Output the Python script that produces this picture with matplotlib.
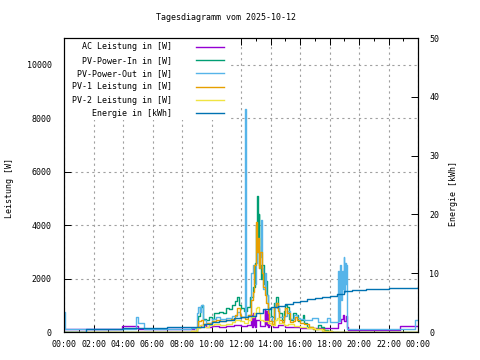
import matplotlib
matplotlib.use("Agg")
import matplotlib.pyplot as plt
from matplotlib.patches import Rectangle

plt.rcParams['font.family'] = ['DejaVu Sans Mono']
plt.rcParams['font.size'] = 6

# Stunden seit Mitternacht / Werte in W bzw. kWh
ac_t = [0.0, 3.9, 5.0, 8.8, 9.0, 9.3, 9.6, 10.0, 10.5, 11.0, 11.5, 12.0, 12.4, 12.7, 12.75,
        12.8, 12.85, 12.9, 12.95, 13.0, 13.3, 13.6, 13.65, 13.7, 13.75, 13.8, 13.85, 13.9,
        14.2, 14.5, 15.0, 15.5, 16.0, 17.0, 18.0, 18.6, 18.75, 18.9, 19.0, 19.1, 19.2,
        19.25, 22.8, 24.0]
ac_w = [100, 220, 100, 150, 200, 250, 200, 220, 200, 230, 250, 220, 250, 650, 200,
        700, 250, 600, 200, 450, 220, 850, 300, 800, 250, 700, 200, 250,
        200, 250, 200, 180, 150, 150, 150, 350, 500, 650, 400, 600, 200,
        75, 220, 220]

pv_in_t = [0.0, 8.3, 8.8, 9.0, 9.1, 9.25, 9.35, 9.45, 9.6, 9.8, 10.0, 10.2, 10.5, 10.8, 11.0,
           11.2, 11.4, 11.6, 11.75, 11.85, 12.0, 12.2, 12.4, 12.6, 12.8, 12.95, 13.05, 13.1,
           13.15, 13.2, 13.25, 13.35, 13.45, 13.55, 13.65, 13.75, 13.85, 14.0, 14.1, 14.25,
           14.4, 14.5, 14.6, 14.75, 14.9, 15.0, 15.1, 15.25, 15.4, 15.55, 15.7, 15.85, 16.0,
           16.2, 16.3, 16.5, 16.7, 16.9, 17.2, 17.4, 17.6, 17.9, 18.2, 24.0]
pv_in_w = [0, 0, 50, 150, 600, 950, 1000, 500, 450, 550, 500, 700, 750, 700, 900,
           850, 1000, 1150, 1300, 1000, 900, 800, 950, 1300, 1700, 2600, 4000, 5100,
           3000, 4400, 2500, 2000, 2500, 1800, 1900, 1400, 900, 600, 550, 1100,
           1300, 900, 700, 450, 800, 1000, 950, 500, 450, 700, 650, 400, 450,
           630, 350, 200, 190, 120, 260, 200, 80, 40, 0, 0]

pv_out_t = [0.0, 0.08, 4.9, 5.0, 5.4, 8.6, 9.0, 9.1, 9.2, 9.3, 9.4, 9.6, 10.0, 10.3, 10.6,
            11.0, 11.4, 11.7, 11.9, 12.2, 12.3, 12.33, 12.5, 12.7, 12.8, 12.9, 13.0, 13.1,
            13.2, 13.3, 13.35, 13.4, 13.5, 13.6, 13.7, 13.8, 13.9, 14.1, 14.3, 14.45, 14.6,
            14.9, 15.1, 15.3, 15.6, 15.8, 16.0, 16.3, 16.8, 17.2, 17.8, 18.0, 18.6, 18.65,
            18.7, 18.8, 18.85, 18.9, 18.95, 19.0, 19.05, 19.1, 19.15, 19.22, 23.8, 24.0]
pv_out_w = [750, 110, 550, 350, 100, 150, 700, 950, 750, 1000, 450, 350, 500, 560, 480,
            520, 600, 750, 550, 550, 8350, 570, 650, 2200, 2500, 1800, 2600, 3200,
            2400, 2800, 4200, 2400, 1600, 2200, 1400, 900, 560, 400, 1100, 900, 560,
            600, 800, 500, 630, 520, 480, 450, 520, 370, 520, 370, 2300, 420,
            2500, 1200, 2300, 1600, 2800, 1500, 2600, 1800, 2500, 110, 450, 450]

pv1_t = [0.0, 8.3, 8.6, 9.0, 9.1, 9.3, 9.45, 9.7, 10.0, 10.3, 10.6, 11.0, 11.3, 11.6, 11.75,
         11.9, 12.0, 12.3, 12.5, 12.7, 12.8, 12.9, 13.0, 13.05, 13.1, 13.15, 13.2, 13.3,
         13.4, 13.5, 13.6, 13.7, 13.8, 13.9, 14.1, 14.25, 14.4, 14.5, 14.6, 14.75, 14.9,
         15.0, 15.15, 15.3, 15.5, 15.65, 15.8, 16.0, 16.3, 16.6, 16.9, 17.3, 17.6, 18.2, 24.0]
pv1_w = [0, 0, 50, 200, 400, 450, 300, 350, 400, 450, 420, 450, 500, 650, 900,
         650, 560, 500, 650, 1200, 1500, 2500, 3200, 4100, 3000, 3500, 2400, 3000,
         2200, 1700, 1400, 1100, 700, 400, 300, 950, 1100, 800, 450, 370, 600,
         900, 700, 370, 400, 560, 450, 330, 300, 200, 100, 120, 50, 0, 0]

pv2_t = [0.0, 8.3, 8.6, 9.0, 9.2, 9.5, 9.8, 10.2, 10.6, 11.0, 11.4, 11.6, 11.9, 12.2, 12.5,
         12.7, 12.85, 13.0, 13.1, 13.2, 13.3, 13.5, 13.8, 14.0, 14.3, 14.45, 14.6, 14.9,
         15.2, 15.6, 16.0, 16.5, 17.0, 17.5, 18.2, 24.0]
pv2_w = [0, 0, 30, 150, 250, 200, 250, 300, 280, 300, 380, 450, 400, 330, 450,
         550, 700, 880, 950, 700, 450, 400, 330, 280, 450, 520, 350, 260,
         300, 220, 200, 150, 100, 50, 0, 0]

energie_t = [0.0, 1.5, 4.0, 7.0, 8.5, 9.0, 9.5, 10.0, 10.5, 11.0, 11.5, 12.0, 12.5, 13.0,
             13.5, 14.0, 14.5, 15.0, 15.5, 16.0, 16.5, 17.0, 17.5, 18.0, 18.5, 19.0, 19.5,
             20.5, 22.0, 23.0, 24.0]
energie_kwh = [0.0, 0.45, 0.6, 0.8, 0.85, 0.9, 1.3, 1.7, 1.9, 2.1, 2.3, 2.5, 2.8, 3.3,
               3.9, 4.2, 4.5, 4.8, 5.1, 5.3, 5.6, 5.8, 6.0, 6.2, 6.5, 6.9, 7.1,
               7.3, 7.4, 7.5, 7.6]

x_ticks = list(range(0, 25, 2))
x_labels = [f"{h % 24:02d}:00" for h in x_ticks]
y_ticks = list(range(0, 11000, 2000))
y2_ticks = list(range(0, 51, 10))

fig = plt.figure(figsize=(4.8, 3.6), dpi=100)
ax = fig.add_axes([64 / 480, 1 - 332 / 360, (418 - 64) / 480, (332 - 38) / 360])
ax2 = ax.twinx()

lw = 1.0
h1, = ax.plot(ac_t, ac_w, color='#9400d3', lw=lw, drawstyle='steps-post')
h2, = ax.plot(pv_in_t, pv_in_w, color='#009e73', lw=lw, drawstyle='steps-post')
h3, = ax.plot(pv_out_t, pv_out_w, color='#56b4e9', lw=lw, drawstyle='steps-post')
h4, = ax.plot(pv1_t, pv1_w, color='#e69f00', lw=lw, drawstyle='steps-post')
h5, = ax.plot(pv2_t, pv2_w, color='#f0e442', lw=lw, drawstyle='steps-post')
h6, = ax2.plot(energie_t, energie_kwh, color='#0072b2', lw=lw, drawstyle='steps-post')

ax.set_xlim(0, 24)
ax.set_ylim(0, 11000)
ax2.set_ylim(0, 50)

ax.set_xticks(x_ticks)
ax.set_xticklabels(x_labels)
ax.set_xticks(range(0, 25), minor=True)
ax.set_yticks(y_ticks)
ax2.set_yticks(y2_ticks)

ax.tick_params(axis='x', which='major', direction='in', top=True, length=5, width=0.7, pad=6)
ax.tick_params(axis='x', which='minor', direction='in', top=True, length=2.5, width=0.7)
ax.tick_params(axis='y', direction='in', left=True, right=False, length=5, width=0.7, pad=9)
ax2.tick_params(axis='y', direction='in', length=5, width=0.7, pad=8)

ax.grid(True, which='major', color='#a0a0a0', linestyle=(0, (2, 3)), linewidth=0.8)
ax.set_axisbelow(True)
for a in (ax, ax2):
    for s in a.spines.values():
        s.set_linewidth(0.8)

# undurchsichtiger Hintergrund der Legende (verdeckt das Gitter)
ax.add_patch(Rectangle((0.003, 0.721), 0.466, 0.275, transform=ax.transAxes,
                       facecolor='white', edgecolor='none', zorder=1))

labels = ["AC Leistung in [W]", "PV-Power-In in [W]", "PV-Power-Out in [W]",
          "PV-1 Leistung in [W]", "PV-2 Leistung in [W]", "Energie in [kWh]"]
width = max(len(s) for s in labels)
ax2.legend([h1, h2, h3, h4, h5, h6], [s.rjust(width) for s in labels],
           loc='upper left', bbox_to_anchor=(0.0115, 0.999), frameon=False,
           markerfirst=False, borderpad=0, handlelength=3.4, handletextpad=2.8,
           labelspacing=0.52, fontsize=6)

fig.text(226 / 480, 1 - 17 / 360, "Tagesdiagramm vom 2025-10-12", ha='center', va='center')
fig.text(10 / 480, 1 - 188 / 360, "Leistung [W]", rotation=90, ha='center', va='center')
fig.text(453 / 480, 1 - 194 / 360, "Energie [kWh]", rotation=90, ha='center', va='center')

fig.savefig("out.png", dpi=100)
